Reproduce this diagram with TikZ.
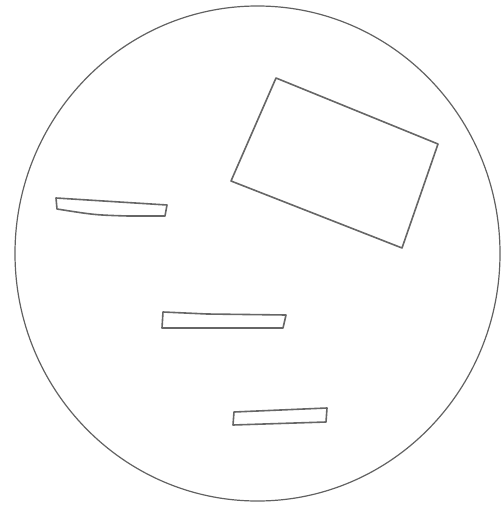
\documentclass[tikz,border=0pt]{standalone}
\begin{document}
\begin{tikzpicture}[x=1pt,y=-1pt,
  sketch/.style={draw=black!60,line width=1.6pt,line join=round,line cap=round},
  rim/.style={draw=black!62,line width=1.2pt}]
\useasboundingbox (0,0) rectangle (501,505);
% outer circle
\draw[rim] (257.5,253.5) ellipse [x radius=242.5, y radius=247.5];
% large tilted rectangle
\draw[sketch] (276,78) -- (438,144) -- (402,248) -- (231,181) -- cycle;
% upper-left bar
\draw[sketch] (56,198) -- (167,205) -- (165,216) -- (128,216) .. controls (95,215) .. (57,209) -- cycle;
% middle bar
\draw[sketch] (163,312) -- (207,314) -- (286,315) -- (283,328) -- (162,328) -- cycle;
% lower bar
\draw[sketch] (234,412) -- (327,408) -- (326,422) -- (233,425) -- cycle;
\end{tikzpicture}
\end{document}
